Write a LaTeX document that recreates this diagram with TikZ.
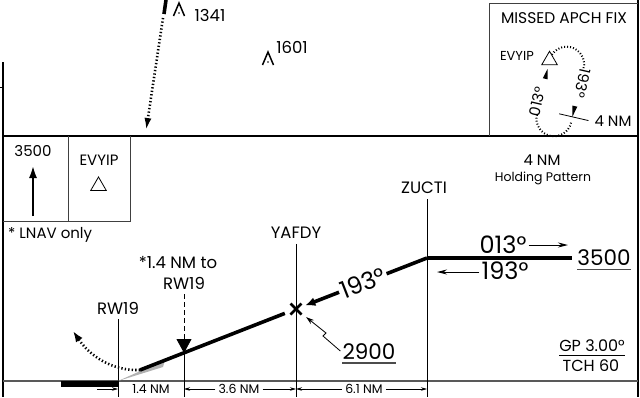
\documentclass[tikz,border=0pt]{standalone}
\usepackage{fontspec}
\setmainfont{Poppins}
\usetikzlibrary{arrows.meta,shapes.geometric}

\tikzset{
    every node/.style={inner sep=0pt},
    rim/.style={line width=1.6pt},
    boxline/.style={line width=0.9pt, black!75},
    fixline/.style={line width=0.8pt},
    course/.style={line width=3.6pt},
    dotted track/.style={line width=2.6pt, dash pattern=on 1.3pt off 2.2pt},
    dimarrow/.style={line width=0.7pt, -{Stealth[length=6pt,width=3.5pt]}},
    hdgarrow/.style={line width=1pt, -{Stealth[length=10pt,width=5pt]}},
    uline/.style={line width=1.3pt, black!70},
    fixtri/.style={draw, regular polygon, regular polygon sides=3, minimum size=18pt, line width=0.8pt, fill=white},
    dimtxt/.style={font=\fontsize{12.5}{12.5}\selectfont},
    smtxt/.style={font=\fontsize{13}{13}\selectfont},
    lbltxt/.style={font=\fontsize{15}{15}\selectfont},
    fixtxt/.style={font=\fontsize{16.5}{16.5}\selectfont},
    crstxt/.style={font=\fontsize{24}{24}\selectfont},
    alttxt/.style={font=\fontsize{21.5}{21.5}\selectfont},
    gptxt/.style={font=\fontsize{16}{16}\selectfont},
}

\begin{document}
\begin{tikzpicture}[x=1pt,y=-1pt]
    \useasboundingbox (0,0) rectangle (640,397);
    \coordinate (bot) at (0,397);
    %
    % frame
    \draw[rim] (3,62) -- (3,397);
    \draw[fixline] (0,87) -- (3,87);
    \draw[rim] (3,136) -- (638,136);
    \draw[rim] (638,0) -- (638,397);
    \draw[line width=1.4pt, black!65] (3,381) -- (638,381);
    %
    % plan view
    \draw[course] (166,0) -- (164,14);
    \coordinate (mapfix) at (146,131);
    \draw[dotted track, -{Latex[length=13pt,width=7pt]}] (163,18) -- (mapfix);
    \coordinate (obs1) at (179,3);
    \draw[line width=1.5pt] (obs1) ++(-5.5,13) -- (obs1) -- ++(5.5,13);
    \fill (obs1) ++(0,10) circle (0.9);
    \node[fixtxt] (el1) at (210,15) {1341};
    \coordinate (obs2) at (268,52);
    \draw[line width=1.5pt] (obs2) ++(-5.5,13) -- (obs2) -- ++(5.5,13);
    \fill (obs2) ++(0,10) circle (0.9);
    \node[fixtxt] (el2) at (292,47) {1601};
    %
    % missed approach fix
    \draw[boxline] (489,136) -- (489,3) -- (638,3);
    \node[font=\fontsize{15.5}{15.5}\selectfont] (mattl) at (564,18) {MISSED APCH FIX};
    \begin{scope}[shift={(560.5,90.5)}, rotate=-13]
        \draw[dotted track, line width=2pt, dash pattern=on 1pt off 2pt] (-17.5,-27) arc[start angle=180, end angle=360, radius=17.5];
        \draw[dotted track, line width=2pt, dash pattern=on 1pt off 2pt] (17.5,29) arc[start angle=0, end angle=180, radius=17.5];
        \node[fixtri] (mafix) at (-17.5,-27) {};
        \fill (-20,-8) -- (-15,-8) -- (-17.5,-18) -- cycle;
        \fill (15,12) -- (20,12) -- (17.5,23) -- cycle;
        \draw[fixline] (4,23) -- (34,23);
        \node[lbltxt, rotate=77] (inhdg) at (-20,16) {013°};
        \node[lbltxt, rotate=-103] (outhdg) at (20,-12) {193°};
    \end{scope}
    \node[smtxt, anchor=east] (maname) at (534,56) {EVYIP};
    \node[lbltxt] (malen) at (613,121) {4 NM};
    %
    % profile boxes
    \draw[boxline] (68,136) -- (68,221);
    \draw[boxline] (130,136) -- (130,221) -- (3,221);
    \node[lbltxt] (boxalt) at (33,151) {3500};
    \coordinate (climb) at (33,165);
    \draw[line width=2.6pt, -{Latex[length=13pt,width=8pt]}] (33,216) -- (climb);
    \node[lbltxt] (boxfix) at (99,160) {EVYIP};
    \node[fixtri] (boxtri) at (98.5,186) {};
    \node[lbltxt, anchor=west] (lnav) at (8,235) {* LNAV only};
    \node[lbltxt] (hp1) at (542,160) {4 NM};
    \node[font=\fontsize{12.5}{12.5}\selectfont] (hp2) at (543,178) {Holding Pattern};
    %
    % fixes
    \coordinate (rw) at (118,381);
    \coordinate (thr) at (140,370);
    \coordinate (map) at (184,353);
    \coordinate (yafdy) at (296,309);
    \coordinate (zucti) at (427,258);
    \coordinate (hold) at (572,258);
    \node[fixtxt] (rwlbl) at (118,308) {RW19};
    \node[fixtxt] (maplbl1) at (178,263) {*1.4 NM to};
    \node[fixtxt] (maplbl2) at (184,283) {RW19};
    \node[fixtxt] (yafdylbl) at (296,233) {YAFDY};
    \node[fixtxt] (zuctilbl) at (424,188) {ZUCTI};
    \draw[fixline] (rw |- rwlbl.south) ++(0,5) -- (rw |- bot);
    \draw[fixline, dash pattern=on 5pt off 3pt, -{Triangle[length=14pt,width=15pt]}] (map |- maplbl2.south) ++(0,5) -- (map);
    \draw[fixline] (map) -- (map |- bot);
    \draw[fixline] (yafdy |- yafdylbl.south) ++(0,5) -- (yafdy |- bot);
    \draw[fixline] (zucti |- zuctilbl.south) ++(0,5) -- (zucti |- bot);
    %
    % runway and path
    \fill (61,381) rectangle (rw |- 0,387);
    \fill[black!30] (rw) -- (165,360) -- (163,367) -- cycle;
    \draw[course, shorten >=12pt] (thr) -- (yafdy);
    \draw[course, shorten >=10pt, -{Latex[length=10pt,width=9pt]}] (zucti) -- node[crstxt, sloped, fill=white, inner sep=2pt, pos=0.49] (crs) {193°} (yafdy);
    \draw[course] (zucti) -- (hold);
    \draw[line width=2.8pt] (yafdy) ++(-5.5,-5.5) -- ++(11,11);
    \draw[line width=2.8pt] (yafdy) ++(-5.5,5.5) -- ++(11,-11);
    \draw[dotted track, -{Latex[length=11pt,width=8pt]}] (thr) .. controls (112,371) and (90,356) .. (73,331);
    %
    % altitudes and courses
    \node[crstxt] (inb) at (503,245) {013°};
    \coordinate (inbend) at (568,245);
    \draw[hdgarrow] (inb.east) ++(2,0) -- (inbend);
    \node[crstxt] (outb) at (505,271) {193°};
    \coordinate (outbend) at (437,272);
    \draw[hdgarrow] (outb.west) ++(-2,1) -- (outbend);
    \node[alttxt] (holdalt) at (604,258) {3500};
    \draw[uline] ([yshift=-3pt]holdalt.south west) -- ([yshift=-3pt]holdalt.south east);
    \node[alttxt] (fafalt) at (369,352) {2900};
    \draw[uline] ([yshift=-3pt]fafalt.south west) -- ([yshift=-3pt]fafalt.south east);
    \draw[fixline, shorten >=13pt, -{Stealth[length=8pt,width=5pt]}] (fafalt.west) ++(-2,-1) -- (323,336) -- (326,333) -- (yafdy);
    \node[gptxt] (gp) at (592,346) {GP 3.00°};
    \node[gptxt] (tch) at (591,366) {TCH 60};
    \draw[fixline] ([yshift=-3pt]gp.south west) -- ([yshift=-3pt]gp.south east);
    %
    % distances
    \node[dimtxt] (d1) at (151,389) {1.4 NM};
    \node[dimtxt] (d2) at (239,389) {3.6 NM};
    \node[dimtxt] (d3) at (364,389) {6.1 NM};
    \draw[dimarrow] (rw |- d1) ++(-21,0) -- (rw |- d1);
    \draw[dimarrow] (d2.west) ++(-3,0) -- (map |- d2);
    \draw[dimarrow] (d2.east) ++(3,0) -- (yafdy |- d2);
    \draw[dimarrow] (d3.west) ++(-3,0) -- (yafdy |- d3);
    \draw[dimarrow] (d3.east) ++(3,0) -- (zucti |- d3);
\end{tikzpicture}
\end{document}
